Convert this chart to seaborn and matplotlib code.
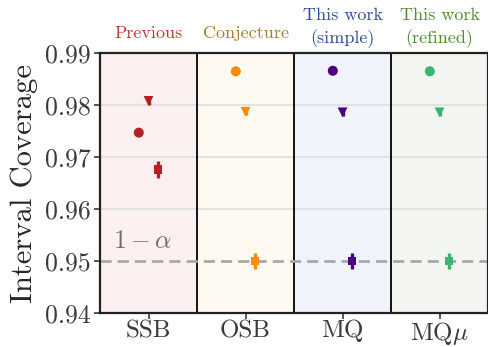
import numpy as np
import pandas as pd
import matplotlib
matplotlib.use("Agg")
import matplotlib.pyplot as plt
import matplotlib.transforms as mtransforms
import seaborn as sns

# Methods along the x axis and the group heading above each
methods = ["SSB", "OSB", "MQ", "MQ$\\mu$"]
headings = ["Previous", "Conjecture", "This work\n(simple)", "This work\n(refined)"]

# Coverage of the three interval types for each method, with their half-widths
circle_cov = [0.9747, 0.9865, 0.9866, 0.9865]
triangle_cov = [0.9808, 0.9787, 0.9786, 0.9786]
square_cov = [0.9676, 0.9500, 0.9500, 0.9500]
circle_err = [0.0006, 0.0003, 0.0003, 0.0003]
triangle_err = [0.0007, 0.0007, 0.0007, 0.0007]
square_err = [0.0016, 0.0016, 0.0016, 0.0016]
nominal = 0.95

marker_colors = ["#b22222", "#ff8c00", "#4b0082", "#3cb371"]
heading_colors = ["#bb3a2a", "#a67c2e", "#2e4a9a", "#4f8a2e"]
panel_colors = ["#fbeff0", "#fefaf1", "#f0f4fa", "#f3f6f0"]

sns.set_theme(style="white")
plt.rcParams.update({
    "font.family": "serif",
    "font.serif": ["cmr10"],
    "mathtext.fontset": "cm",
    "axes.unicode_minus": False,
    "axes.formatter.use_mathtext": True,
})

rows = []
kinds = [("circle", circle_cov, circle_err, -0.1),
         ("triangle", triangle_cov, triangle_err, 0.0),
         ("square", square_cov, square_err, 0.1)]
for kind, cov, err, shift in kinds:
    for i, m in enumerate(methods):
        rows.append({"method": m, "kind": kind, "pos": i + shift,
                     "coverage": cov[i], "err": err[i]})
df = pd.DataFrame(rows)

fig = plt.figure(figsize=(4.89, 3.47), dpi=100)
ax = fig.add_axes([0.2045, 0.098, 0.7935, 0.749])

for i, c in enumerate(panel_colors):
    ax.axvspan(i - 0.5, i + 0.5, color=c, zorder=0, lw=0)
for i in range(1, len(methods)):
    ax.axvline(i - 0.5, color="black", lw=1.3, zorder=1)

for yv in [0.96, 0.97, 0.98, 0.99]:
    ax.axhline(yv, color="#e2e2e2", lw=1.4, zorder=0.5)
ax.axhline(nominal, color="#a8a8a8", lw=2.0, ls=(0, (4, 2.2)), zorder=1.5)
ax.text(-0.37, 0.9516, "$1-\\alpha$", color="#6e6e6e", fontsize=18.5,
        ha="left", va="bottom", zorder=2)

palette = dict(zip(methods, marker_colors))
ax.errorbar(df["pos"], df["coverage"], yerr=df["err"], fmt="none",
            ecolor=[palette[m] for m in df["method"]], elinewidth=2.4,
            capsize=0, zorder=2.5)
sns.scatterplot(data=df, x="pos", y="coverage", hue="method", style="kind",
                size="kind", sizes={"circle": 52, "triangle": 50, "square": 34},
                palette=palette,
                markers={"circle": "o", "triangle": "v", "square": "s"},
                edgecolor="none", legend=False, ax=ax, zorder=3)

ax.set_xlim(-0.5, len(methods) - 0.5)
ax.set_ylim(0.94, 0.99)
ax.set_xticks(range(len(methods)))
ax.set_xticklabels(methods)
ax.set_yticks([0.94, 0.95, 0.96, 0.97, 0.98, 0.99])
ax.set_yticklabels(["0.94", "0.95", "0.96", "0.97", "0.98", "0.99"])
ax.set_xlabel("")
ax.set_ylabel("Interval Coverage", fontsize=22, labelpad=5)
ax.tick_params(axis="both", labelsize=18.5, colors="#3a3a3a", length=4,
               width=1.2, direction="out", left=True, bottom=True, pad=3)
ax.tick_params(axis="x", labelsize=18, pad=1)
for sp in ax.spines.values():
    sp.set_color("#222222")
    sp.set_linewidth(1.6)

trans = mtransforms.blended_transform_factory(ax.transData, ax.transAxes)
for i, (h, c) in enumerate(zip(headings, heading_colors)):
    y = 1.096 if "\n" in h else 1.077
    ax.text(i, y, h, transform=trans, ha="center", va="center",
            color=c, fontsize=13, linespacing=1.45)

fig.savefig("out.png", dpi=100)
